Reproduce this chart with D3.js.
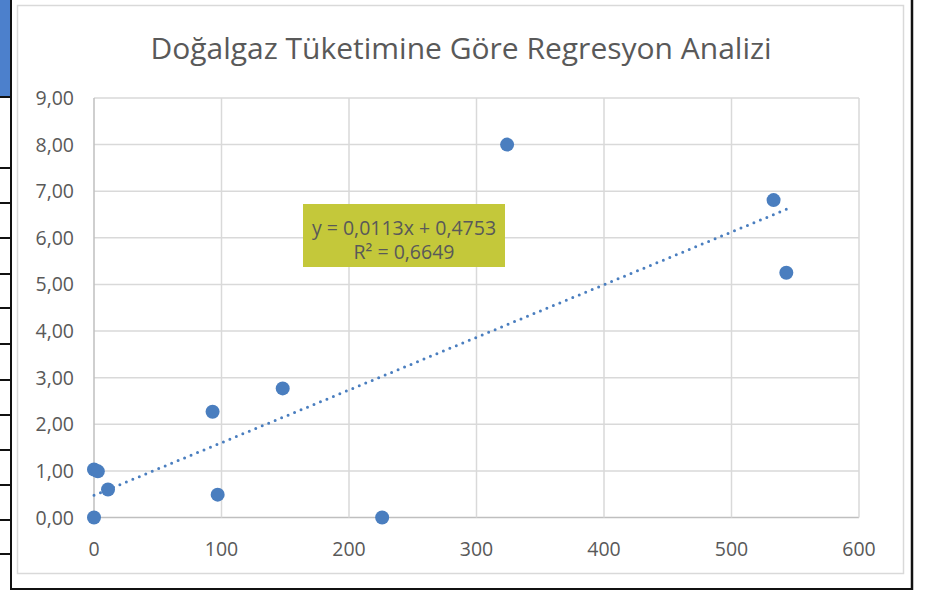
<!DOCTYPE html>
<html lang="tr">
<head>
  <meta charset="utf-8">
  <title>Doğalgaz Tüketimine Göre Regresyon Analizi</title>
  <script type="text/javascript" src="https://cdn.jsdelivr.net/npm/d3@7"></script>
</head>
<style>
body {
  margin: 0;
  background: white;
  font-family: "Open Sans", sans-serif;
}
</style>
<body>
  <script type="text/javascript">
  // data
  var tuketim = [0, 0, 3, 11, 93, 97, 148, 226, 324, 533, 543];
  var deger   = [0, 1.03, 0.99, 0.60, 2.27, 0.49, 2.77, 0, 8.00, 6.81, 5.25];
  var xTicks = [0, 100, 200, 300, 400, 500, 600];
  var yTicks = [0, 1, 2, 3, 4, 5, 6, 7, 8, 9];
  var egim = 0.0113, kesisim = 0.4753, r2 = 0.6649;
  var baslik = "Doğalgaz Tüketimine Göre Regresyon Analizi";

  var w = 926, h = 591;
  var trFormat = d3.formatLocale({decimal: ",", thousands: ".", grouping: [3], currency: ["", " TL"]});
  var fmt2 = trFormat.format(".2f");
  var fmt4 = trFormat.format(".4f");

  var svg = d3.select("body").append("svg")
      .attr("width", w)
      .attr("height", h);

  // spreadsheet bits behind the chart
  svg.append("rect").attr("x", 0).attr("y", 0).attr("width", 10).attr("height", 96)
     .style("fill", "#4c80cc");
  [97, 168, 203, 238, 274, 308, 344, 380, 415, 450, 485, 520, 554].forEach(function(y) {
    svg.append("line").attr("x1", 0).attr("x2", 11).attr("y1", y).attr("y2", y)
       .style("stroke", "#111").style("stroke-width", 2);
  });
  svg.append("line").attr("x1", 11).attr("x2", 11).attr("y1", 0).attr("y2", 590)
     .style("stroke", "#111").style("stroke-width", 2);
  svg.append("line").attr("x1", 912).attr("x2", 912).attr("y1", 0).attr("y2", 590)
     .style("stroke", "#111").style("stroke-width", 2.5);
  svg.append("line").attr("x1", 10).attr("x2", 913).attr("y1", 589).attr("y2", 589)
     .style("stroke", "#111").style("stroke-width", 2);

  // chart area
  svg.append("rect").attr("x", 17.5).attr("y", 5.5).attr("width", 886).attr("height", 568)
     .style("fill", "white").style("stroke", "#d9d9d9").style("stroke-width", 1.5);

  svg.append("text")
     .attr("x", 461).attr("y", 59)
     .style("text-anchor", "middle")
     .style("font-size", "30px")
     .style("fill", "#595959")
     .text(baslik);

  var x = d3.scaleLinear().domain([0, 600]).range([94, 859]);
  var y = d3.scaleLinear().domain([0, 9]).range([517.5, 98]);

  // gridlines
  svg.append("g").selectAll("line").data(yTicks).enter().append("line")
     .attr("x1", x(0)).attr("x2", x(600))
     .attr("y1", function(d) { return y(d); }).attr("y2", function(d) { return y(d); })
     .style("stroke", function(d) { return d === 0 ? "#bfbfbf" : "#d9d9d9"; })
     .style("stroke-width", 1.5);
  svg.append("g").selectAll("line").data(xTicks).enter().append("line")
     .attr("y1", y(0)).attr("y2", y(9))
     .attr("x1", function(d) { return x(d); }).attr("x2", function(d) { return x(d); })
     .style("stroke", function(d) { return d === 0 ? "#bfbfbf" : "#d9d9d9"; })
     .style("stroke-width", 1.5);

  // tick labels
  svg.append("g").selectAll("text").data(yTicks).enter().append("text")
     .attr("x", 74).attr("y", function(d) { return y(d) + 7; })
     .style("text-anchor", "end").style("font-size", "19.5px").style("fill", "#595959")
     .text(function(d) { return fmt2(d); });
  svg.append("g").selectAll("text").data(xTicks).enter().append("text")
     .attr("x", function(d) { return x(d); }).attr("y", 556)
     .style("text-anchor", "middle").style("font-size", "19.5px").style("fill", "#595959")
     .text(function(d) { return d; });

  // trend line
  var xMin = d3.min(tuketim), xMax = d3.max(tuketim);
  svg.append("line")
     .attr("x1", x(xMin)).attr("y1", y(egim * xMin + kesisim))
     .attr("x2", x(xMax)).attr("y2", y(egim * xMax + kesisim))
     .style("stroke", "#4a7ebf").style("stroke-width", 3)
     .style("stroke-linecap", "round").style("stroke-dasharray", "0 7");

  // points
  svg.append("g").selectAll("circle").data(tuketim).enter().append("circle")
     .attr("cx", function(d) { return x(d); })
     .attr("cy", function(d, i) { return y(deger[i]); })
     .attr("r", 7)
     .style("fill", "#4a7ebf");

  // equation label
  svg.append("rect").attr("x", 303).attr("y", 204).attr("width", 202).attr("height", 63)
     .style("fill", "#c4c83a");
  svg.append("text").attr("x", 404).attr("y", 235)
     .style("text-anchor", "middle").style("font-size", "19.5px").style("fill", "#595959")
     .text("y = " + fmt4(egim) + "x + " + fmt4(kesisim));
  svg.append("text").attr("x", 404).attr("y", 259)
     .style("text-anchor", "middle").style("font-size", "19.5px").style("fill", "#595959")
     .text("R² = " + fmt4(r2));
</script>
</body>
</html>
